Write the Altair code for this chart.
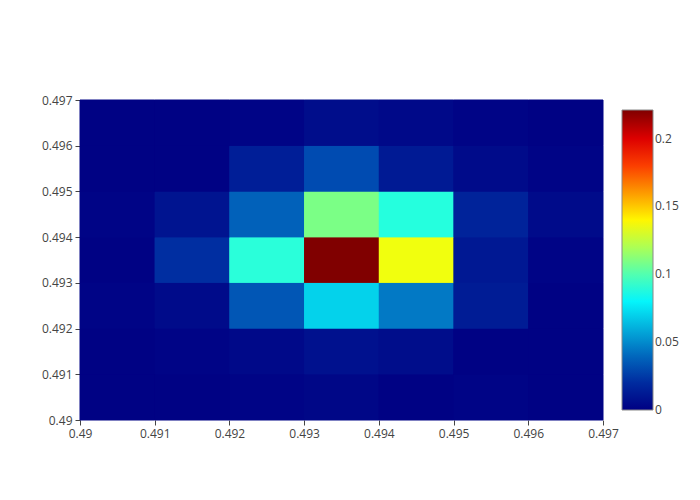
import altair as alt
import pandas as pd

# bin edges (same for x and y)
x_edges = [0.490, 0.491, 0.492, 0.493, 0.494, 0.495, 0.496, 0.497]
y_edges = [0.490, 0.491, 0.492, 0.493, 0.494, 0.495, 0.496, 0.497]

# values per row, from bottom (y=0.490) to top (y=0.496)
row_0 = [0.001, 0.001, 0.002, 0.003, 0.001, 0.002, 0.001]
row_1 = [0.001, 0.002, 0.004, 0.008, 0.006, 0.001, 0.001]
row_2 = [0.002, 0.005, 0.035, 0.070, 0.045, 0.013, 0.001]
row_3 = [0.001, 0.021, 0.091, 0.221, 0.135, 0.011, 0.002]
row_4 = [0.002, 0.009, 0.038, 0.109, 0.090, 0.016, 0.005]
row_5 = [0.001, 0.001, 0.014, 0.032, 0.012, 0.005, 0.002]
row_6 = [0.001, 0.001, 0.002, 0.006, 0.004, 0.002, 0.001]
rows = [row_0, row_1, row_2, row_3, row_4, row_5, row_6]

color_max = 0.221
# the bottom tick sits a hair above 0 so its label is centred on the bar end
legend_ticks = [0.00005, 0.05, 0.1, 0.15, 0.2]

records = []
for j, row in enumerate(rows):
    for i, v in enumerate(row):
        records.append({"x": x_edges[i], "x2": x_edges[i + 1],
                        "y": y_edges[j], "y2": y_edges[j + 1],
                        "v": v, "v_edge": v})
df = pd.DataFrame(records)

jet_stops = [0, 0.125, 0.375, 0.625, 0.875, 1.0]
jet_colors = ["rgb(0,0,131)", "rgb(0,60,170)", "rgb(5,255,255)",
              "rgb(255,255,0)", "rgb(250,0,0)", "rgb(128,0,0)"]

font = "Open Sans"


def jet_scale():
    return alt.Scale(domain=[s * color_max for s in jet_stops],
                     range=jet_colors, interpolate="rgb")


axis_common = dict(format="~g", title=None, grid=False, domain=False,
                   tickColor="#444", tickSize=5, labelColor="#444",
                   labelFont=font, labelFontSize=12, labelPadding=3,
                   labelFlush=False)

base = alt.Chart(df).encode(
    x=alt.X("x:Q", scale=alt.Scale(domain=[0.490, 0.497], nice=False, zero=False),
            axis=alt.Axis(values=x_edges, **axis_common)),
    x2="x2:Q",
    y=alt.Y("y:Q", scale=alt.Scale(domain=[0.490, 0.497], nice=False, zero=False),
            axis=alt.Axis(values=y_edges, **axis_common)),
    y2="y2:Q",
)

# underlay: cells with a thin edge in their own colour, to hide seams
under = base.mark_rect(strokeWidth=1).encode(
    color=alt.Color("v_edge:Q", scale=jet_scale(), legend=None),
    stroke=alt.Stroke("v_edge:Q", scale=jet_scale(), legend=None),
)

cells = base.mark_rect(strokeWidth=0).encode(
    color=alt.Color("v:Q", scale=jet_scale(),
                    legend=alt.Legend(title=None, type="gradient", orient="none",
                                      legendX=542, legendY=10,
                                      direction="vertical",
                                      gradientLength=300, gradientThickness=31,
                                      gradientStrokeColor="#888",
                                      gradientStrokeWidth=1,
                                      values=legend_ticks,
                                      labelExpr="datum.value < 0.001 ? '0' : format(datum.value, '~g')",
                                      labelColor="#444", labelFont=font,
                                      labelFontSize=12, labelOffset=2,
                                      padding=0)),
)

chart = alt.layer(under, cells).resolve_scale(
    stroke="independent", color="independent"
).properties(
    width=523, height=320,
    autosize=alt.AutoSizeParams(type="none"),
    padding={"left": 72, "top": 92, "right": 80, "bottom": 60},
).configure_view(stroke=None)

chart.save("out.html", embed_options={"renderer": "svg", "actions": False})
